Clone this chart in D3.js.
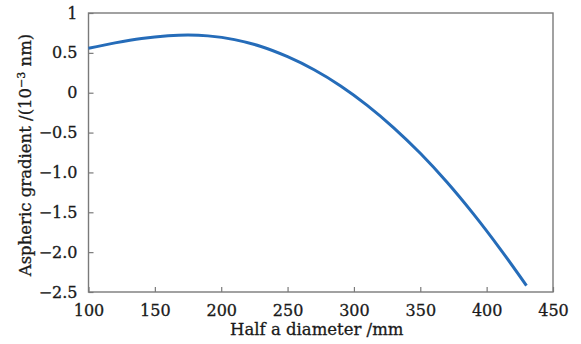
<!DOCTYPE html>
<html>
<head>
<meta charset="utf-8">
<script src="https://cdn.jsdelivr.net/npm/d3@7"></script>
<style>
    body { margin: 0; background: #fff; }
    text { font-family: "DejaVu Serif", "Liberation Serif", serif; fill: #1a1a1a; stroke: #1a1a1a; stroke-width: 0.3px; }
</style>
</head>
<body>
<div id="chart"></div>
<script>
// Half diameter (mm) and aspheric gradient (10^-3 nm)
const radius = [100, 120, 140, 160, 175, 190, 210, 230, 250, 270, 290, 310, 330, 350, 370, 390, 410, 430];
const gradient = [0.557, 0.625, 0.680, 0.714, 0.724, 0.713, 0.666, 0.580, 0.452, 0.288, 0.085, -0.158, -0.440, -0.760, -1.120, -1.520, -1.955, -2.420];

const xTicks = [100, 150, 200, 250, 300, 350, 400, 450];
const yTicks = [1, 0.5, 0, -0.5, -1.0, -1.5, -2.0, -2.5];
const yTickLabels = ["1", "0.5", "0", "\u22120.5", "\u22121.0", "\u22121.5", "\u22122.0", "\u22122.5"];

const width = 581;
const height = 344;
const margin = { top: 13, right: 28, bottom: 52, left: 88.5 };

const svg = d3.select("#chart")
    .append("svg")
    .attr("width", width)
    .attr("height", height);

const x = d3.scaleLinear()
    .domain([100, 450])
    .range([margin.left, width - margin.right]);

const y = d3.scaleLinear()
    .domain([-2.5, 1])
    .range([height - margin.bottom, margin.top]);

const frameColor = "#7a7a7a";

// Bottom axis, ticks point inward
const xAxis = svg.append("g")
    .attr("transform", `translate(0,${y(-2.5)})`)
    .call(d3.axisBottom(x).tickValues(xTicks).tickSize(-5).tickPadding(13).tickSizeOuter(0));

// Left axis, ticks point inward
const yAxis = svg.append("g")
    .attr("transform", `translate(${x(100)},0)`)
    .call(d3.axisLeft(y).tickValues(yTicks).tickSize(-5).tickPadding(11).tickSizeOuter(0)
        .tickFormat((d, i) => yTickLabels[i]));

[xAxis, yAxis].forEach(g => {
    g.select(".domain").remove();
    g.selectAll(".tick line").attr("stroke", frameColor).attr("stroke-width", 1.2);
    g.selectAll(".tick text")
        .style("font-size", "16px")
        .attr("fill", "#1a1a1a");
});

// Box round the plot area
svg.append("rect")
    .attr("x", x(100))
    .attr("y", y(1))
    .attr("width", x(450) - x(100))
    .attr("height", y(-2.5) - y(1))
    .attr("fill", "none")
    .attr("stroke", frameColor)
    .attr("stroke-width", 1.4);

// The curve
const line = d3.line()
    .x((d, i) => x(radius[i]))
    .y(d => y(d))
    .curve(d3.curveCatmullRom);

svg.append("path")
    .datum(gradient)
    .attr("fill", "none")
    .attr("stroke", "#256cb9")
    .attr("stroke-width", 3)
    .attr("stroke-linecap", "butt")
    .attr("d", line);

// Axis titles
svg.append("text")
    .attr("x", (x(100) + x(450)) / 2 - 4)
    .attr("y", 335)
    .attr("text-anchor", "middle")
    .style("font-size", "16.5px")
    .text("Half a diameter /mm");

const yTitle = svg.append("text")
    .attr("transform", `translate(31,${155}) rotate(-90)`)
    .attr("text-anchor", "middle")
    .style("font-size", "16.5px");

yTitle.append("tspan").text("Aspheric gradient /(10");
yTitle.append("tspan")
    .attr("dy", -6)
    .style("font-size", "11px")
    .text("\u22123");
yTitle.append("tspan")
    .attr("dy", 6)
    .text(" nm)");
</script>
</body>
</html>
